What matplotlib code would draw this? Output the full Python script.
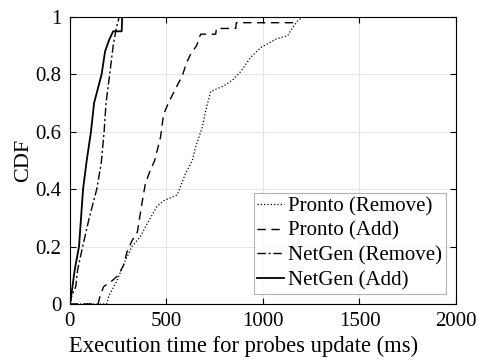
import matplotlib.pyplot as plt

plt.rcParams['font.family'] = ['Liberation Serif', 'DejaVu Serif']
plt.rcParams['font.size'] = 15

# CDF curves: (time ms, cdf)
pronto_remove_x = [0, 190, 203, 243, 286, 321, 365, 406, 451, 486, 556, 573, 599,
                   634, 651, 686, 703, 729, 797, 842, 885, 937, 990, 1068, 1128,
                   1155, 1180, 1207, 1250]
pronto_remove_y = [0, 0, 0.03, 0.08, 0.15, 0.2, 0.235, 0.287, 0.34, 0.36, 0.38, 0.41, 0.455,
                   0.5, 0.547, 0.617, 0.673, 0.74, 0.76, 0.78, 0.81, 0.86, 0.894, 0.923, 0.935,
                   0.964, 0.987, 1.0, 1.0]

pronto_add_x = [0, 146, 153, 174, 217, 250, 278, 295, 321, 349, 373, 391, 413,
                439, 469, 485, 510, 547, 582, 604, 625, 656, 677, 755, 759, 859, 862,
                1160, 1165, 2000]
pronto_add_y = [0, 0, 0.02, 0.06, 0.08, 0.1, 0.135, 0.18, 0.22, 0.25, 0.35, 0.42, 0.46,
                0.5, 0.58, 0.66, 0.7, 0.75, 0.795, 0.84, 0.87, 0.9, 0.94, 0.94, 0.96, 0.96, 0.98,
                0.98, 1.0, 1.0]

netgen_remove_x = [0, 10, 30, 40, 66, 100, 139, 162, 177, 187, 206, 224, 240, 255, 2000]
netgen_remove_y = [0, 0.03, 0.06, 0.12, 0.2, 0.3, 0.4, 0.49, 0.6, 0.7, 0.8, 0.9, 0.96, 1.0, 1.0]

netgen_add_x = [0, 5, 25, 47, 68, 87, 109, 125, 164, 182, 203, 224, 268, 271, 2000]
netgen_add_y = [0, 0.02, 0.12, 0.2, 0.4, 0.5, 0.6, 0.7, 0.8, 0.88, 0.92, 0.95, 0.95, 1.0, 1.0]

fig = plt.figure(figsize=(4.79, 3.61), dpi=100)
ax = fig.add_axes([0.146, 0.158, 0.806, 0.795])

ax.plot(pronto_remove_x, pronto_remove_y, color='black', linestyle=':', linewidth=0.9,
        label='Pronto (Remove)')
ax.plot(pronto_add_x, pronto_add_y, color='black', linestyle=(0, (6, 4)), linewidth=1.0,
        label='Pronto (Add)')
ax.plot(netgen_remove_x, netgen_remove_y, color='black', linestyle=(0, (6, 2, 1.5, 2)),
        linewidth=1.0, label='NetGen (Remove)')
ax.plot(netgen_add_x, netgen_add_y, color='black', linestyle='-', linewidth=1.3,
        label='NetGen (Add)')

ax.set_xlim(0, 2000)
ax.set_ylim(0, 1)
ax.set_xticks([0, 500, 1000, 1500, 2000])
ax.set_yticks([0, 0.2, 0.4, 0.6, 0.8, 1])
ax.set_yticklabels(['0', '0.2', '0.4', '0.6', '0.8', '1'])
ax.tick_params(direction='in', top=True, right=True, length=4, width=0.8, pad=6)
ax.grid(True, color='#e6e6e6', linewidth=0.8)
ax.set_axisbelow(True)

ax.set_xlabel('Execution time for probes update (ms)', fontsize=16.3)
ax.xaxis.set_label_coords(0.45, -0.11)
ax.set_ylabel('CDF', fontsize=16, labelpad=2)

leg = ax.legend(loc='lower right', fontsize=15, handlelength=1.3, handletextpad=0.2,
                labelspacing=0.25, borderpad=0.15, borderaxespad=0.5, fancybox=False)
leg.get_frame().set_edgecolor('#a0a0a0')
leg.get_frame().set_linewidth(0.8)

plt.savefig('out.png', dpi=100)
plt.close()
